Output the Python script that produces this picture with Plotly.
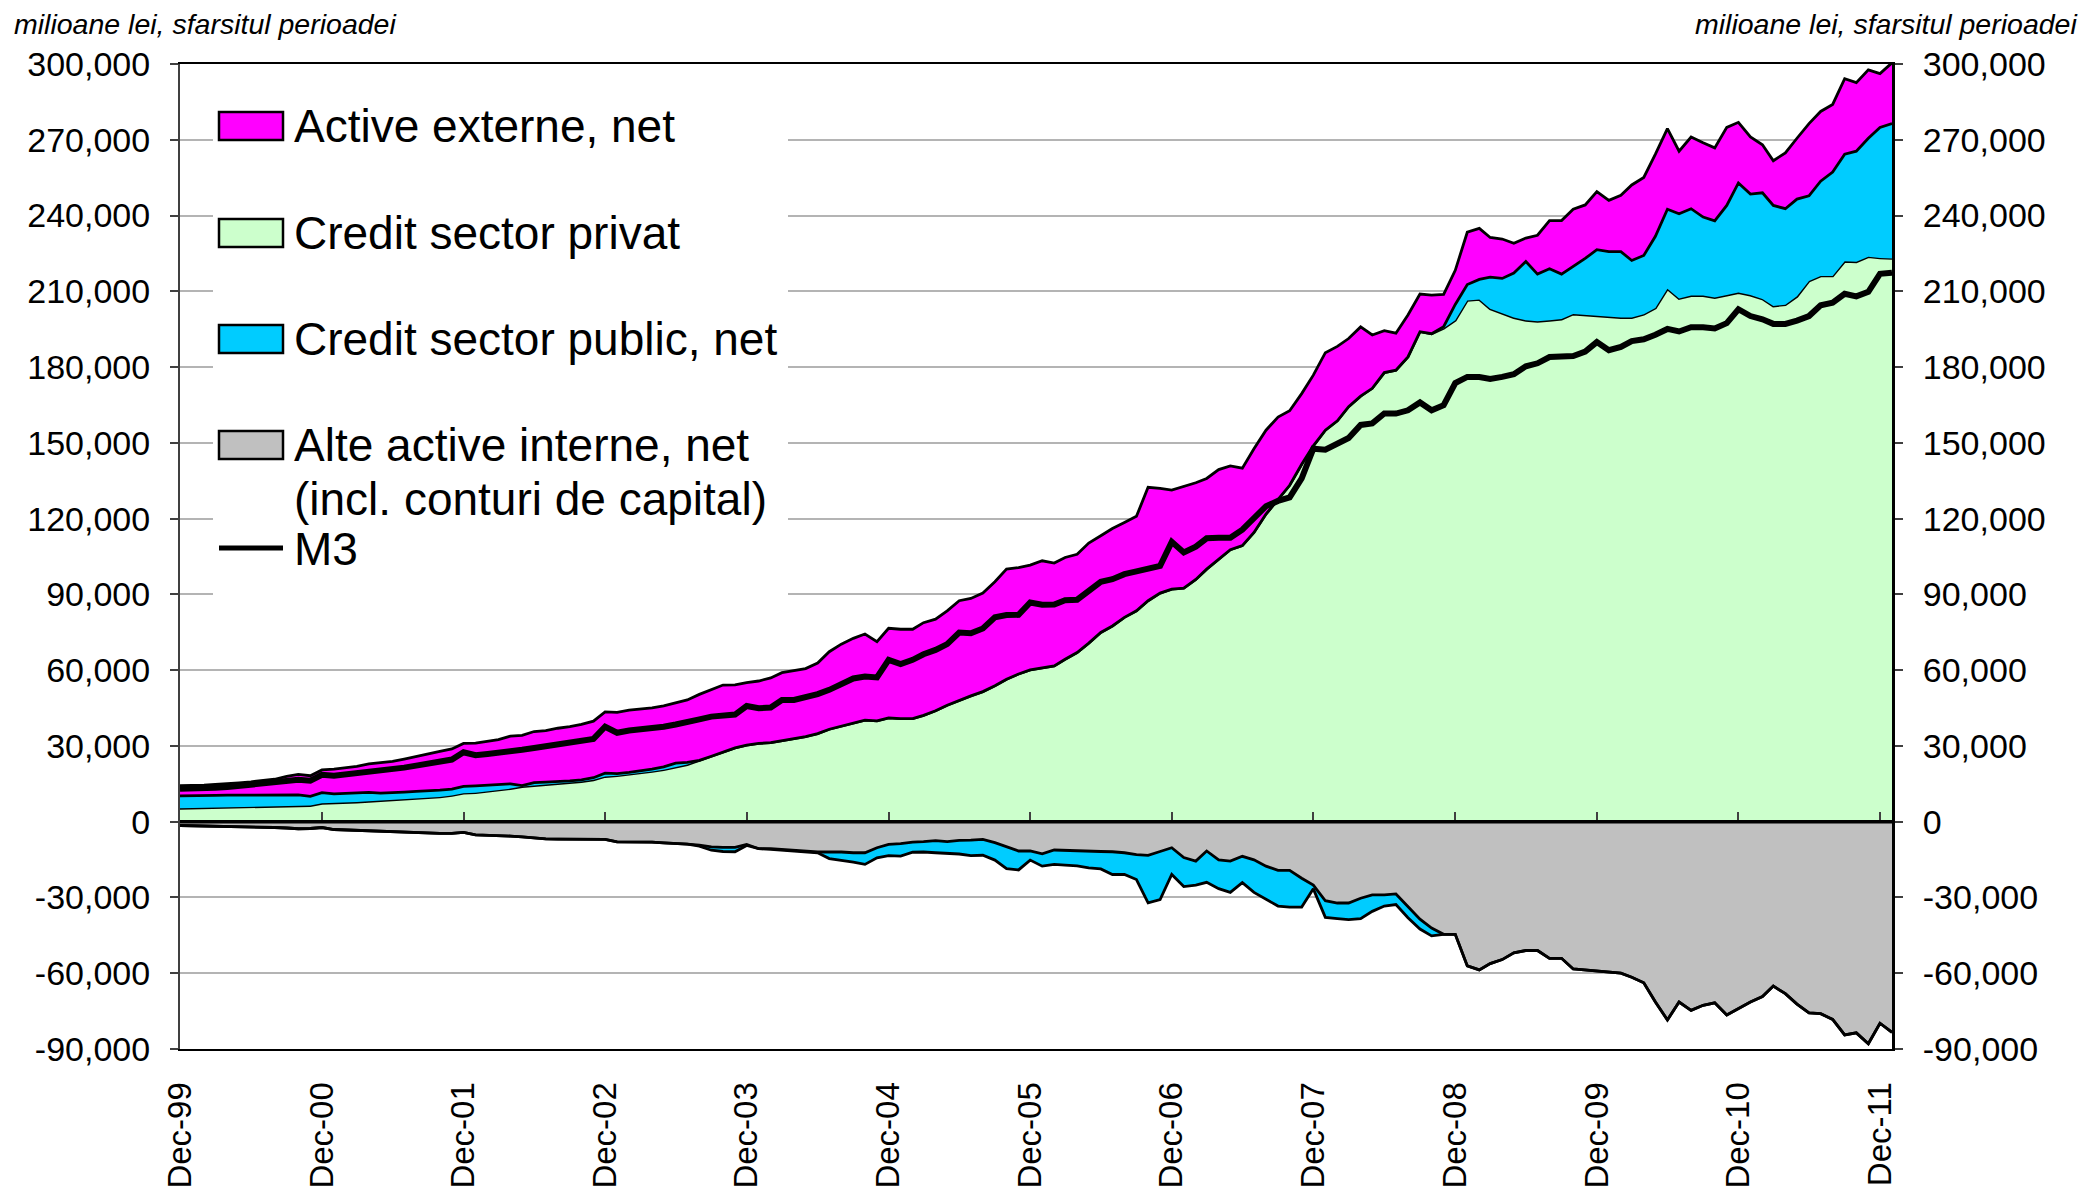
import numpy as np
import pandas as pd
import plotly.graph_objects as go

# ---------------- data (milioane lei, end of period) ----------------
months = pd.date_range("1999-12-01", periods=146, freq="MS")

credit_privat = [
    5300, 5400, 5600, 5600, 5700, 5800, 5800, 6000, 6100, 6200, 6400, 6400,
    7300, 7400, 7700, 7800, 8100, 8400, 8600, 8900, 9200, 9400, 9800, 10400,
    11300, 11500, 12000, 12300, 13100, 13900, 14300, 14600, 15000, 15400, 15900, 16600,
    17900, 18200, 18700, 19200, 19900, 20600, 21600, 22600, 24300, 25900, 27500, 29200,
    30300, 31000, 31300, 32200, 32900, 33700, 34900, 36600, 37900, 39200, 40200, 39900,
    41100, 40800, 40800, 42100, 43900, 46100, 48100, 49800, 51500, 53800, 56400, 58500,
    60100, 60800, 61700, 64300, 67000, 70700, 74900, 77500, 80900, 83500, 87500, 90500,
    92100, 92500, 95900, 100000, 104100, 107700, 109300, 114500, 121800, 127600, 133200, 141500,
    148800, 155000, 158700, 164300, 168500, 171600, 177800, 178800, 184000, 194000, 193200, 195400,
    198500, 206400, 206800, 203100, 201200, 199600, 198500, 198100, 198500, 199000, 201000, 200600,
    200500, 199900, 199600, 199600, 200900, 203400, 211000, 207200, 208300, 208300, 207500, 208500,
    209500, 208500, 207000, 204200, 204700, 208000, 214100, 216100, 216100, 221900, 221700, 223700,
    223200, 223000,
]

credit_public = [
    4900, 4800, 4800, 4800, 4800, 4700, 4800, 4600, 4600, 4500, 4200, 3600,
    4200, 3600, 3500, 3600, 3500, 2900, 2800, 2800, 2800, 2800, 2700, 2500,
    2700, 2700, 2500, 2500, 1900, 400, 1200, 1100, 900, 800, 700, 800,
    1300, 800, 800, 800, 900, 1100, 1600, 900, -400, -1300, -1600, -1700,
    -400, 0, -300, -300, -400, -300, -300, -2600, -3200, -3700, -4600, -4000,
    -4400, -4900, -4000, -4100, -4800, -4600, -5400, -6100, -6300, -6900, -8700, -7500,
    -3600, -4900, -5700, -5800, -5900, -6500, -6900, -9000, -8600, -9900, -18800, -19000,
    -10600, -11500, -9500, -12400, -11400, -12400, -10400, -12900, -13100, -14100, -14500, -11400,
    -1500, -6600, -6200, -6600, -8100, -6500, -4400, -4200, -4200, -3900, -3100, 600,
    6300, 6300, 7900, 12500, 13900, 17600, 23300, 18700, 20400, 17800, 18700, 22400,
    26000, 25800, 26100, 22600, 23300, 28400, 31500, 33500, 34400, 31100, 30400, 35500,
    43400, 40000, 42000, 39800, 38000, 38500, 33700, 37500, 41100, 42400, 43800, 46900,
    51700, 53400,
]

active_externe = [
    4100, 4100, 4100, 4400, 4500, 4900, 5200, 5700, 6100, 7200, 8100, 8200,
    9000, 9800, 10200, 10500, 11300, 12000, 12500, 13100, 13900, 14700, 15300, 15900,
    17000, 16900, 17300, 17700, 18900, 19900, 20200, 20400, 21100, 21400, 21900, 22400,
    24300, 24300, 24700, 24600, 24300, 24200, 23900, 24700, 26100, 26300, 26600, 25000,
    24800, 24700, 25600, 26800, 26800, 26900, 27900, 30700, 32400, 33400, 34100, 31400,
    35500, 35400, 35400, 36700, 36300, 37400, 39400, 38600, 39000, 41200, 43600, 42100,
    41500, 42500, 40700, 40300, 38900, 39600, 38300, 38600, 37600, 37400, 44900, 41500,
    39200, 40300, 38300, 35900, 35300, 33200, 30700, 33200, 33200, 32600, 29500, 28000,
    28000, 30700, 29500, 27000, 27400, 21100, 16600, 14600, 16600, 14900, 15300, 12800,
    13500, 20700, 20200, 15700, 15600, 11800, 9300, 15400, 19100, 21200, 22800, 21200,
    23000, 20300, 22300, 29900, 30900, 32500, 31900, 24800, 28400, 29400, 28900, 30900,
    24000, 22600, 19000, 17700, 22100, 24100, 28600, 27600, 26800, 29900, 27100, 27100,
    21300, 24100,
]

alte_active = [
    -1500, -1600, -1600, -1700, -1700, -1900, -2000, -2100, -2300, -2500, -2800, -2700,
    -2300, -3100, -3300, -3500, -3700, -3900, -4000, -4200, -4400, -4500, -4600, -4600,
    -4200, -5200, -5300, -5600, -5700, -6000, -6500, -6800, -6900, -6900, -7000, -7000,
    -7000, -8000, -8000, -8100, -8100, -8400, -8600, -8900, -9300, -10000, -10200, -10200,
    -9000, -10700, -10700, -11000, -11400, -11800, -12000, -12000, -12000, -12300, -12300, -10300,
    -9000, -8700, -8100, -7900, -7500, -7900, -7400, -7300, -7000, -8300, -9900, -11600,
    -11600, -12700, -11200, -11400, -11600, -11800, -11800, -11900, -12300, -13000, -13300, -11800,
    -10300, -14200, -15600, -11600, -15100, -15600, -13700, -15100, -17600, -19300, -19300, -22400,
    -25100, -31300, -32200, -32200, -30300, -29000, -29000, -28600, -33800, -38600, -42100, -44600,
    -44600, -57100, -58700, -56200, -54600, -51900, -51000, -51000, -54100, -54100, -58300, -58700,
    -59200, -59500, -60000, -61600, -63800, -71400, -78500, -71400, -74700, -72700, -71700, -76500,
    -74000, -71400, -69200, -65100, -68100, -72200, -75700, -76000, -78300, -84400, -83600, -87900,
    -79800, -83400,
]

m3 = [
    13000, 13000, 13100, 13400, 13700, 14100, 14500, 15000, 15500, 16200, 16600, 16200,
    18600, 18200, 18700, 19300, 19800, 19900, 20600, 21400, 22200, 23200, 23800, 24600,
    27500, 26300, 26800, 27500, 28300, 28500, 29200, 29900, 30400, 30900, 31900, 32800,
    37600, 35200, 36100, 36500, 37000, 37600, 38500, 39200, 40500, 41600, 42100, 42400,
    45800, 44900, 45200, 48200, 48200, 49100, 50500, 52200, 54400, 56700, 57500, 57100,
    64100, 62400, 64100, 66300, 68000, 70300, 74900, 74600, 76500, 80900, 81800, 81900,
    86800, 85900, 86000, 87700, 87900, 91400, 95000, 96000, 98000, 99100, 100300, 101300,
    110800, 106600, 108900, 112200, 112400, 112400, 115600, 120100, 124900, 127000, 128400, 135900,
    147700, 147300, 149800, 151900, 157100, 157700, 161600, 161600, 162900, 166000, 162900, 164900,
    173700, 176100, 176100, 175300, 176100, 177200, 180300, 181500, 184000, 184000, 184400, 186100,
    189900, 186700, 188000, 190300, 191000, 192800, 195100, 194100, 195800, 195800, 195300, 197400,
    202900, 200200, 198900, 197100, 197100, 198400, 200200, 204500, 205500, 209000, 208000, 209800,
    216900, 217400,
]

# axis ticks
ytick_vals = list(range(-90000, 300001, 30000))
ytick_text = [f"{v:,}" for v in ytick_vals]
xtick_vals = list(months[::12])
xtick_text = [d.strftime("%b-%y") for d in xtick_vals]

legend_names = ["Active externe, net", "Credit sector privat", "Credit sector public, net",
                "Alte active interne, net", "(incl. conturi de capital)", "M3"]
unit_label = "milioane lei, sfarsitul perioadei"

# ---------------- styling ----------------
FONT = "Liberation Sans, Arial, sans-serif"
MAG, GREEN, CYAN, GREY = "#FF00FF", "#CCFFCC", "#00CCFF", "#C0C0C0"

W_FIG, H_FIG = 2085, 1190
ML, MR, MT, MB = 180, 193, 64, 141
PW, PH = W_FIG - ML - MR, H_FIG - MT - MB
Y_MIN, Y_MAX = -90000, 300000


def px(x):
    return (x - ML) / PW


def py(y):
    return 1 - (y - MT) / PH


# stacked levels (positive parts stack upward, negative parts downward)
cp = np.array(credit_privat, dtype=float)
cg = np.array(credit_public, dtype=float)
nfa = np.array(active_externe, dtype=float)
oth = np.array(alte_active, dtype=float)
cg_pos = np.clip(cg, 0, None)
cg_neg = np.clip(cg, None, 0)
lvl_green = cp
lvl_cyan = cp + cg_pos
lvl_mag = lvl_cyan + nfa
lvl_grey = oth
lvl_cyan_neg = oth + cg_neg

edge = dict(color="black", width=2.8)
fig = go.Figure()
fig.add_trace(go.Scatter(x=months, y=lvl_green, mode="lines", fill="tozeroy",
                         fillcolor=GREEN, line=edge, name=legend_names[1], showlegend=False))
fig.add_trace(go.Scatter(x=months, y=lvl_green, mode="lines", line=dict(width=0),
                         showlegend=False, hoverinfo="skip"))
fig.add_trace(go.Scatter(x=months, y=lvl_cyan, mode="lines", fill="tonexty",
                         fillcolor=CYAN, line=edge, name=legend_names[2], showlegend=False))
fig.add_trace(go.Scatter(x=months, y=lvl_mag, mode="lines", fill="tonexty",
                         fillcolor=MAG, line=edge, name=legend_names[0], showlegend=False))
fig.add_trace(go.Scatter(x=months, y=lvl_grey, mode="lines", fill="tozeroy",
                         fillcolor=GREY, line=edge, name=legend_names[3], showlegend=False))
fig.add_trace(go.Scatter(x=months, y=lvl_cyan_neg, mode="lines", fill="tonexty",
                         fillcolor=CYAN, line=edge, name=legend_names[2] + " (neg)",
                         showlegend=False))
# M3 on the overlay axes (identical ranges) so the right axis and zero-line ticks render
fig.add_trace(go.Scatter(x=months, y=m3, mode="lines", line=dict(color="black", width=6),
                         name="M3", showlegend=False, xaxis="x2", yaxis="y2"))

axis_font = dict(family=FONT, size=34, color="black")
zero_pos = (0 - Y_MIN) / (Y_MAX - Y_MIN)

fig.update_layout(
    width=W_FIG, height=H_FIG,
    margin=dict(l=ML, r=MR, t=MT, b=MB, pad=0, autoexpand=False),
    paper_bgcolor="white", plot_bgcolor="white",
    font=dict(family=FONT, color="black"),
    showlegend=False,
    xaxis=dict(type="date", range=[months[0], months[-1]], showgrid=False, zeroline=False,
               showline=True, linecolor="black", linewidth=2, mirror=True, automargin=False,
               ticks="", tickvals=xtick_vals, ticktext=xtick_text, tickangle=-90,
               tickfont=dict(family=FONT, size=33, color="black"), ticklabelstandoff=18),
    xaxis2=dict(type="date", overlaying="x", anchor="free", position=zero_pos,
                range=[months[0], months[-1]], showgrid=False, zeroline=False, showline=False,
                ticks="inside", ticklen=10, tickwidth=1.5, tickcolor="#404040",
                tickvals=xtick_vals, showticklabels=False, automargin=False),
    yaxis=dict(range=[Y_MIN, Y_MAX], tickvals=ytick_vals, ticktext=ytick_text,
               ticks="outside", ticklen=8, tickwidth=1.5, tickcolor="#404040",
               showline=True, linecolor="#404040", linewidth=2, automargin=False,
               showgrid=True, gridcolor="#B4B4B4", gridwidth=1.5, zeroline=False,
               tickfont=axis_font, ticklabelstandoff=13),
    yaxis2=dict(range=[Y_MIN, Y_MAX], overlaying="y", side="right", anchor="x",
                tickvals=ytick_vals, ticktext=ytick_text, automargin=False,
                ticks="outside", ticklen=8, tickwidth=1.5, tickcolor="#404040",
                showline=True, linecolor="black", linewidth=3,
                showgrid=False, zeroline=False, tickfont=axis_font, ticklabelstandoff=13),
)

shapes = [
    # zero line
    dict(type="line", xref="paper", yref="y", x0=0, x1=1, y0=0, y1=0,
         line=dict(color="black", width=3.5), layer="above"),
    # legend background
    dict(type="rect", xref="paper", yref="paper", x0=px(213), x1=px(788),
         y0=py(605), y1=py(68), fillcolor="white", line=dict(width=0), layer="above"),
]
annotations = [
    dict(text=f"<i>{unit_label}</i>", xref="paper", yref="paper", x=px(12), y=py(24),
         xanchor="left", yanchor="middle", showarrow=False,
         font=dict(family=FONT, size=28.5, color="black")),
    dict(text=f"<i>{unit_label}</i>", xref="paper", yref="paper", x=px(2079), y=py(24),
         xanchor="right", yanchor="middle", showarrow=False,
         font=dict(family=FONT, size=28.5, color="black")),
]

legend_font = dict(family=FONT, size=46, color="black")
swatches = [(legend_names[0], MAG, 126), (legend_names[1], GREEN, 233),
            (legend_names[2], CYAN, 339), (legend_names[3], GREY, 445)]
for name, col, yc in swatches:
    shapes.append(dict(type="rect", xref="paper", yref="paper", x0=px(219), x1=px(283),
                       y0=py(yc + 14), y1=py(yc - 14), fillcolor=col,
                       line=dict(color="black", width=2.5), layer="above"))
    annotations.append(dict(text=name, xref="paper", yref="paper", x=px(292), y=py(yc),
                            xanchor="left", yanchor="middle", showarrow=False,
                            font=legend_font))
annotations.append(dict(text=legend_names[4], xref="paper", yref="paper", x=px(292), y=py(499),
                        xanchor="left", yanchor="middle", showarrow=False, font=legend_font))
shapes.append(dict(type="line", xref="paper", yref="paper", x0=px(219), x1=px(283),
                   y0=py(548), y1=py(548), line=dict(color="black", width=5), layer="above"))
annotations.append(dict(text=legend_names[5], xref="paper", yref="paper", x=px(292), y=py(549),
                        xanchor="left", yanchor="middle", showarrow=False, font=legend_font))

fig.update_layout(shapes=shapes, annotations=annotations)

fig.write_html("out.html", config={"displayModeBar": False},
               post_script="document.body.style.margin='0';document.body.style.overflow='hidden';")
